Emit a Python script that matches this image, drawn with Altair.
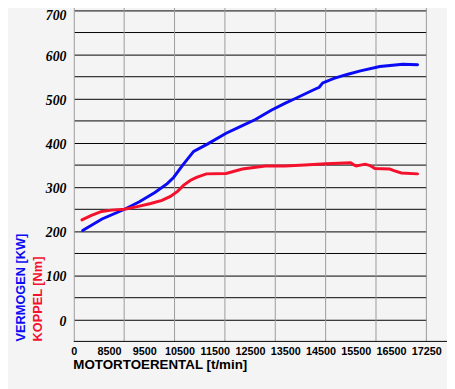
import altair as alt
import pandas as pd

# ---- data ----
power_rpm = [7750, 8300, 8940, 9360, 9800, 10150, 10330, 10600, 10900, 11300, 11820,
             12250, 12650, 13100, 13500, 13770, 14320, 14460, 14560, 14880, 15250,
             15630, 16180, 16830, 17250]
power_kw = [201, 227, 249, 266, 287, 307, 321, 350, 380, 397, 421,
            437, 452, 473, 489, 499, 520, 525, 535, 545, 554,
            562, 572, 577, 576]

torque_rpm = [7730, 8000, 8290, 8570, 8940, 9300, 9680, 10000, 10240, 10450, 10610,
              10800, 10980, 11260, 11820, 12280, 12930, 13490, 14050, 14650, 15350,
              15430, 15510, 15765, 15900, 16040, 16460, 16600, 16790, 17250]
torque_nm = [225, 235, 244, 247, 249, 255, 262, 269, 278, 290, 303,
             314, 321, 329, 330, 340, 347, 347, 349, 352, 354,
             350, 347, 351, 348, 341, 340, 336, 331, 329]

x_tick_values = [7500, 8500, 9500, 10500, 11500, 12500, 13500, 14500, 15500, 16500, 17500]
x_tick_labels = ["0", "8500", "9500", "10500", "11500", "12500", "13500", "14500",
                 "15500", "16500", "17250"]
y_grid_values = list(range(0, 751, 50))
v_grid = [1, 2, 3, 4, 5, 6, 7]

title_power = "VERMOGEN [KW]"
title_torque = "KOPPEL  [Nm]"
x_title = "MOTORTOERENTAL  [t/min]"

W, H = 359, 360
BLUE = "#0a0af5"
RED = "#f5102c"

label_expr = " : ".join(
    f"datum.value == {v} ? '{l}'" for v, l in zip(x_tick_values, x_tick_labels)
) + " : ''"

df_p = pd.DataFrame({"rpm": power_rpm, "val": power_kw})
df_t = pd.DataFrame({"rpm": torque_rpm, "val": torque_nm})

xscale = alt.Scale(domain=[7500, 17500], nice=False, zero=False)
yscale = alt.Scale(domain=[-50, 750], nice=False, zero=False)

xaxis = alt.Axis(
    values=x_tick_values, labelExpr=label_expr, grid=False, domain=False, ticks=False,
    labelFont="Liberation Sans", labelFontWeight="bold", labelFontSize=11,
    labelColor="#000", labelPadding=4, labelFlush=False, labelOverlap=False,
    labelBound=False,
    title=x_title, titleFont="Liberation Sans", titleFontWeight="bold", titleFontSize=13.6,
    titleColor="#000", titleAnchor="start", titleAlign="left", titleX=-1, titleY=28,
    titleBaseline="alphabetic",
)
yaxis = alt.Axis(
    values=y_grid_values, labelExpr="datum.value % 100 == 0 ? datum.label : ''",
    grid=True, gridColor="#000", gridWidth=1, gridOpacity=1,
    domain=True, domainColor="#9a9a9a", domainWidth=1, ticks=False,
    labelFont="Liberation Serif", labelFontWeight="bold", labelFontStyle="italic",
    labelFontSize=14, labelColor="#000", labelPadding=8, title=None,
    labelOffset=alt.ConditionalAxisNumber(
        condition={"test": "datum.value >= 650", "value": 6}, value=2
    ),
)

vgrid = alt.Chart(pd.DataFrame({"g": v_grid})).mark_rule(color="#9a9a9a", strokeWidth=1).encode(
    x=alt.X("g:Q", scale=alt.Scale(domain=[0, 7], nice=False), axis=None)
)

power = alt.Chart(df_p).mark_line(color=BLUE, strokeWidth=3, strokeCap="round").encode(
    x=alt.X("rpm:Q", scale=xscale, axis=xaxis),
    y=alt.Y("val:Q", scale=yscale, axis=yaxis),
)
torque = alt.Chart(df_t).mark_line(color=RED, strokeWidth=3, strokeCap="round").encode(
    x=alt.X("rpm:Q", scale=xscale, axis=xaxis),
    y=alt.Y("val:Q", scale=yscale, axis=yaxis),
)

bottom_line = alt.Chart(pd.DataFrame({"a": [0]})).mark_rule(color="#000", strokeWidth=1).encode(
    x=alt.value(0), x2=alt.value(W + 21), y=alt.value(H)
)

t1 = alt.Chart(pd.DataFrame({"t": [title_power]})).mark_text(
    angle=270, align="left", baseline="middle", font="Liberation Sans",
    fontWeight="bold", fontSize=13, color=BLUE,
).encode(text="t:N", x=alt.value(-54), y=alt.value(H))
t2 = alt.Chart(pd.DataFrame({"t": [title_torque]})).mark_text(
    angle=270, align="left", baseline="middle", font="Liberation Sans",
    fontWeight="bold", fontSize=13, color=RED,
).encode(text="t:N", x=alt.value(-36), y=alt.value(H))

main = alt.layer(power, torque, bottom_line, t1, t2)

chart = alt.layer(vgrid, main).resolve_scale(x="independent").properties(
    width=W, height=H,
    autosize=alt.AutoSizeParams(type="none"),
    padding={"left": 67, "top": -24, "right": 21, "bottom": 45},
    background="#f4f4f4",
).configure_view(stroke=None).configure_axisX(labelOverlap=False)

chart.save("out.html", embed_options={"renderer": "svg", "actions": False})
